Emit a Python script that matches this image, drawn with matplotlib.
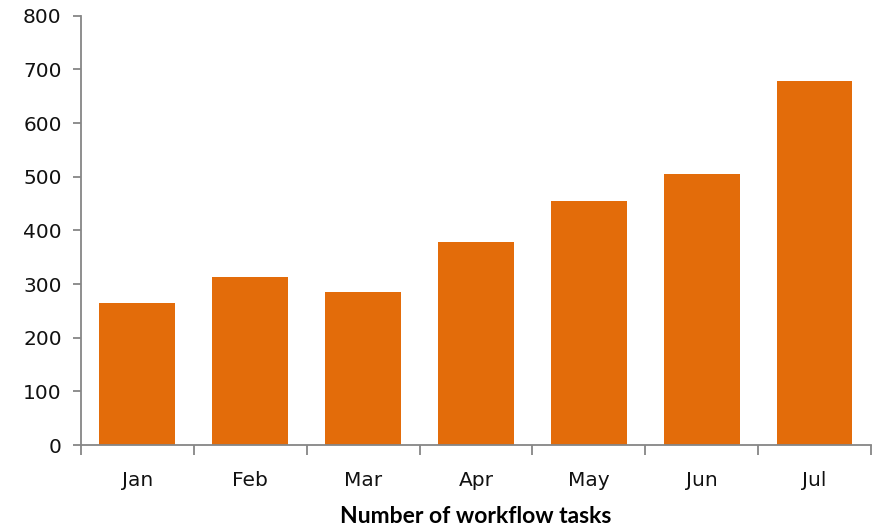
import matplotlib.pyplot as plt
import numpy as np

months = ["Jan", "Feb", "Mar", "Apr", "May", "Jun", "Jul"]
tasks = [264, 314, 285, 379, 455, 505, 678]
y_ticks = [0, 100, 200, 300, 400, 500, 600, 700, 800]

axis_grey = "#868686"

fig = plt.figure(figsize=(8.79, 5.28), dpi=100)
ax = fig.add_axes([0.092, 0.157, 0.899, 0.813])

x = np.arange(len(months))
ax.bar(x, tasks, width=0.67, color="#E36C0A", zorder=2)

ax.set_xlim(-0.5, len(months) - 0.5)
ax.set_ylim(0, 800)
ax.set_yticks(y_ticks)
ax.set_xticks(x)
ax.set_xticklabels(months)
ax.set_xticks(np.arange(len(months) + 1) - 0.5, minor=True)

for side in ["top", "right"]:
    ax.spines[side].set_visible(False)
for side in ["left", "bottom"]:
    ax.spines[side].set_color(axis_grey)
    ax.spines[side].set_linewidth(1.3)

ax.tick_params(axis="y", length=5.8, width=1.3, color=axis_grey,
               labelsize=14.5, labelcolor="#111111", pad=8)
ax.tick_params(axis="x", which="major", length=0, labelsize=14.5,
               labelcolor="#111111", pad=19)
ax.tick_params(axis="x", which="minor", length=7.2, width=1.3, color=axis_grey)

ax.set_xlabel("Number of workflow tasks", fontsize=16.5, fontweight="bold",
              family=["Lato", "DejaVu Sans"], labelpad=11, color="black")

plt.savefig("out.png", dpi=100)
